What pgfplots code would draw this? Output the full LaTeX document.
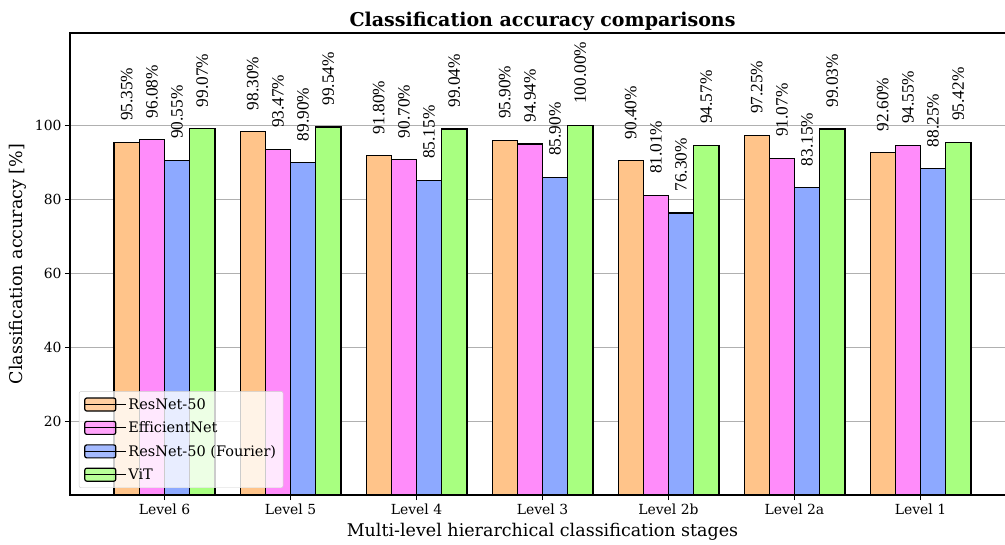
\documentclass[border=0pt]{standalone}
\usepackage{fontspec}
\setmainfont{DejaVu Serif}
\newfontfamily\timesf{Liberation Serif}
\usepackage{pgfplots}
\pgfplotsset{compat=1.18}
\definecolor{cOr}{HTML}{FFC48A}
\definecolor{cPk}{HTML}{FF8CFA}
\definecolor{cBl}{HTML}{8DA9FF}
\definecolor{cGr}{HTML}{A8FF80}
\pgfplotsset{
  mybar/.style={fill=#1, draw=black, line width=1.2bp,
    legend image code/.code={\draw[fill=#1, draw=black, line width=1.2bp] (0bp,-6.5bp) rectangle (31bp,6.5bp); \path (0bp,0bp) -- (41bp,0bp);}},
}
\begin{document}
\begin{tikzpicture}
\useasboundingbox (-70bp,-50bp) rectangle (935bp,495bp);
\begin{axis}[
  at={(0,0)}, anchor=south west,
  scale only axis, width=945bp, height=462bp,
  xmin=-0.75, xmax=6.75, ymin=0, ymax=125,
  ybar=0pt, bar width=25.2bp,
  xtick={0,...,6},
  xticklabels={Level 6,Level 5,Level 4,Level 3,Level 2b,Level 2a,Level 1},
  ytick={20,40,60,80,100},
  tick pos=left, tick align=outside, major tick length=5bp,
  ymajorgrids, grid style={line width=0.8bp, color=black!31},
  axis line style={line width=1.1bp},
  tick style={black, line width=1.1bp},
  ticklabel style={font=\fontsize{13.9bp}{16bp}\selectfont},
  /pgf/number format/assume math mode=true,
  xlabel={Multi-level hierarchical classification stages},
  ylabel={Classification accuracy [\%]},
  label style={font=\fontsize{17.5bp}{20bp}\selectfont},
  xlabel style={at={(axis description cs:0.5,0)}, anchor=center, yshift=-37bp},
  ylabel style={at={(axis description cs:-0.055,0.5)}, anchor=center},
  title={Classification accuracy comparisons},
  title style={font=\bfseries\fontsize{19bp}{22bp}\selectfont, at={(axis description cs:0.5,1)}, anchor=base, yshift=1bp},
  nodes near coords={\pgfmathprintnumber[fixed,fixed zerofill,precision=2]{\pgfplotspointmeta}\%},
  nodes near coords style={yshift=21bp, rotate=90, anchor=west, inner sep=0pt, font=\timesf\fontsize{17.3bp}{20bp}\selectfont, text=black},
  legend style={at={(0.0095,0.0152)}, anchor=south west, draw=black!20, rounded corners=2bp, fill=white, fill opacity=0.8, text opacity=1, font=\fontsize{14.5bp}{17bp}\selectfont, row sep=7bp, inner xsep=5bp, inner ysep=5bp},
  legend cell align=left,
]
\addplot[mybar=cOr, draw=black, line width=1.2bp] coordinates {(0,95.35) (1,98.30) (2,91.80) (3,95.90) (4,90.40) (5,97.25) (6,92.60)};
\addplot[mybar=cPk, draw=black, line width=1.2bp] coordinates {(0,96.08) (1,93.47) (2,90.70) (3,94.94) (4,81.01) (5,91.07) (6,94.55)};
\addplot[mybar=cBl, draw=black, line width=1.2bp] coordinates {(0,90.55) (1,89.90) (2,85.15) (3,85.90) (4,76.30) (5,83.15) (6,88.25)};
\addplot[mybar=cGr, draw=black, line width=1.2bp] coordinates {(0,99.07) (1,99.54) (2,99.04) (3,100.00) (4,94.57) (5,99.03) (6,95.42)};
\legend{ResNet-50, EfficientNet, ResNet-50 (Fourier), ViT}
\end{axis}
\end{tikzpicture}
\end{document}
